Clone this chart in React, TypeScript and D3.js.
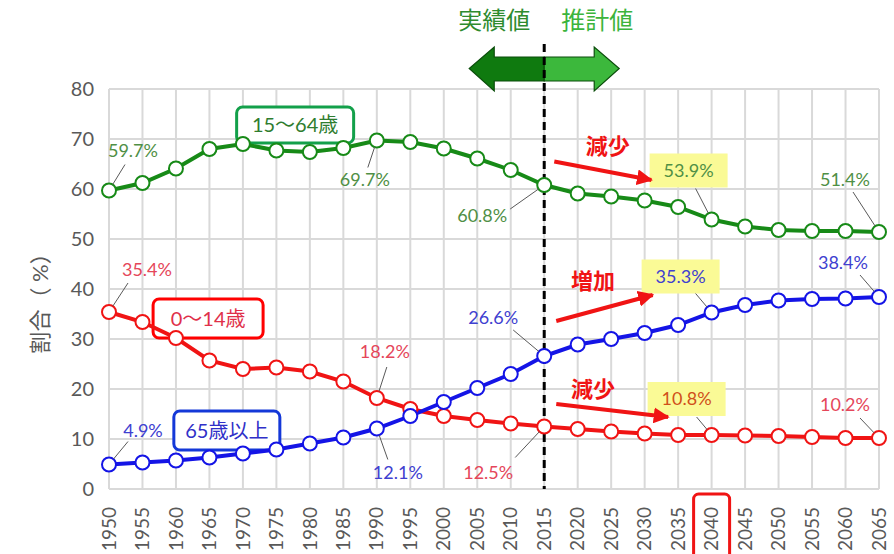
import React from 'react';
import * as d3 from 'd3';

const years = [1950, 1955, 1960, 1965, 1970, 1975, 1980, 1985, 1990, 1995, 2000, 2005, 2010, 2015, 2020, 2025, 2030, 2035, 2040, 2045, 2050, 2055, 2060, 2065];
const working = [59.7, 61.2, 64.1, 68.0, 69.0, 67.7, 67.4, 68.2, 69.7, 69.4, 68.1, 66.1, 63.8, 60.8, 59.1, 58.5, 57.7, 56.4, 53.9, 52.5, 51.8, 51.6, 51.6, 51.4];
const children = [35.4, 33.4, 30.2, 25.7, 24.0, 24.3, 23.5, 21.5, 18.2, 16.0, 14.6, 13.8, 13.1, 12.5, 12.0, 11.5, 11.1, 10.8, 10.8, 10.7, 10.6, 10.4, 10.2, 10.2];
const elderly = [4.9, 5.3, 5.7, 6.3, 7.1, 7.9, 9.1, 10.3, 12.1, 14.6, 17.4, 20.2, 23.0, 26.6, 28.9, 30.0, 31.2, 32.8, 35.3, 36.8, 37.7, 38.0, 38.1, 38.4];
const yTicks = [0, 10, 20, 30, 40, 50, 60, 70, 80];

const series = [
  { key: 'working', name: '15～64歳', values: working, color: '#178a17', text: '#2f7d2f', box: '#13a04a', labelColor: '#4f8f45' },
  { key: 'children', name: '0～14歳', values: children, color: '#f01414', text: '#e0304a', box: '#ff0000', labelColor: '#e5465a' },
  { key: 'elderly', name: '65歳以上', values: elderly, color: '#1414e6', text: '#3030c8', box: '#1438d8', labelColor: '#4040d0' },
];

// value callouts: series, year, text offset, leader end offset, highlighted?
const callouts = [
  { s: 'working', year: 1950, dx: 24, dy: -40, lx: 16, ly: -26, hi: false },
  { s: 'working', year: 1990, dx: -12, dy: 39, lx: -9, ly: 27, hi: false },
  { s: 'working', year: 2015, dx: -62, dy: 31, lx: -34, ly: 24, hi: false },
  { s: 'working', year: 2040, dx: -23, dy: -49, lx: -16, ly: -31, hi: true },
  { s: 'working', year: 2065, dx: -34, dy: -52, lx: -26, ly: -40, hi: false },
  { s: 'children', year: 1950, dx: 38, dy: -42, lx: 19, ly: -29, hi: false },
  { s: 'children', year: 1990, dx: 8, dy: -46, lx: 10, ly: -31, hi: false },
  { s: 'children', year: 2015, dx: -56, dy: 46, lx: -29, ly: 31, hi: false },
  { s: 'children', year: 2040, dx: -25, dy: -36, lx: -15, ly: -18, hi: true },
  { s: 'children', year: 2065, dx: -34, dy: -33, lx: -19, ly: -20, hi: false },
  { s: 'elderly', year: 1950, dx: 34, dy: -34, lx: 19, ly: -23, hi: false },
  { s: 'elderly', year: 1990, dx: 21, dy: 44, lx: 11, ly: 31, hi: false },
  { s: 'elderly', year: 2015, dx: -51, dy: -38, lx: -31, ly: -26, hi: false },
  { s: 'elderly', year: 2040, dx: -31, dy: -36, lx: -16, ly: -19, hi: true },
  { s: 'elderly', year: 2065, dx: -36, dy: -34, lx: -19, ly: -22, hi: false },
];

// series name boxes, in data coordinates (centre year, centre value)
const nameBoxes = [
  { s: 'working', year: 1977.8, value: 72.8, w: 117, h: 36 },
  { s: 'children', year: 1964.8, value: 34.1, w: 110, h: 39 },
  { s: 'elderly', year: 1967.6, value: 11.7, w: 106, h: 39 },
];

// red trend arrows, in data coordinates
const trends = [
  { label: '減少', from: [2016.5, 65.5], to: [2031, 61.8], tx: 2024.5, ty: 68.6 },
  { label: '増加', from: [2016.8, 33.6], to: [2031.2, 38.8], tx: 2022.3, ty: 41.6 },
  { label: '減少', from: [2016.8, 17], to: [2033.5, 14.4], tx: 2022.3, ty: 20 },
];

const W = 894;
const H = 554;
const FONT = 'Lato, "Noto Sans CJK JP", sans-serif';

export default function App() {
  const x = d3.scaleLinear().domain([1950, 2065]).range([109, 879]);
  const y = d3.scaleLinear().domain([0, 80]).range([489, 89]);
  const line = d3.line<number>().x((_, i) => x(years[i])).y((d) => y(d));
  const byKey = Object.fromEntries(series.map((s) => [s.key, s]));
  const xs = x(2015);

  return (
    <svg width={W} height={H} style={{ position: 'absolute', left: 0, top: 0, background: '#fff' }} fontFamily={FONT}>
      <defs>
        <marker id="redhead" viewBox="0 0 10 10" refX="9" refY="5" markerWidth="4" markerHeight="4" orient="auto">
          <path d="M0,0 L10,5 L0,10 z" fill="#f01414" />
        </marker>
      </defs>

      {/* grid */}
      {years.map((yr) => (
        <line key={'v' + yr} x1={x(yr)} x2={x(yr)} y1={y(80)} y2={y(0)} stroke="#d9d9d9" strokeWidth={2} />
      ))}
      {yTicks.map((t) => (
        <line key={'h' + t} x1={x(1950)} x2={x(2065)} y1={y(t)} y2={y(t)} stroke="#d9d9d9" strokeWidth={2} />
      ))}

      {/* y ticks */}
      {yTicks.map((t) => (
        <text key={'yt' + t} x={94} y={y(t)} dy="0.35em" textAnchor="end" fontSize={20} fill="#595959">{t}</text>
      ))}
      <text transform={`translate(40,${y(38.2)}) rotate(-90)`} textAnchor="middle" dy="0.35em" fontSize={22} fill="#595959">割合（ %）</text>

      {/* x ticks */}
      {years.map((yr) => (
        <text key={'xt' + yr} transform={`translate(${x(yr)},${y(0) + 18}) rotate(-90)`} textAnchor="end" dy="0.35em" fontSize={19} fill="#595959">{yr}</text>
      ))}
      <rect x={x(2040) - 18} y={494} width={36} height={70} rx={5} fill="none" stroke="#f01414" strokeWidth={3} />

      {/* actual / projected arrows */}
      <text x={xs - 14} y={21} dy="0.35em" textAnchor="end" fontSize={24} fill="#2e8b2e">実績値</text>
      <text x={xs + 17} y={21} dy="0.35em" textAnchor="start" fontSize={24} fill="#3cb43c">推計値</text>
      <path d={`M${xs},57 L${xs - 50},57 L${xs - 50},47 L${xs - 75},68.5 L${xs - 50},91 L${xs - 50},81 L${xs},81 Z`} fill="#0f7a0f" stroke="#0b4d0b" strokeWidth={1.2} />
      <path d={`M${xs},57 L${xs + 50},57 L${xs + 50},47 L${xs + 75},68.5 L${xs + 50},91 L${xs + 50},81 L${xs},81 Z`} fill="#3cb83c" stroke="#0b4d0b" strokeWidth={1.2} />
      <line x1={xs} x2={xs} y1={44} y2={y(0)} stroke="#000" strokeWidth={3} strokeDasharray="8 5" />

      {/* series name boxes (behind the lines) */}
      {nameBoxes.map((b) => {
        const s = byKey[b.s];
        const cx = x(b.year);
        const cy = y(b.value);
        return (
          <g key={'n' + b.s}>
            <rect x={cx - b.w / 2} y={cy - b.h / 2} width={b.w} height={b.h} rx={6} fill="#fff" stroke={s.box} strokeWidth={3} />
            <text x={cx} y={cy} dy="0.35em" textAnchor="middle" fontSize={20} fill={s.text}>{s.name}</text>
          </g>
        );
      })}

      {/* lines */}
      {series.map((s) => (
        <path key={'l' + s.key} d={line(s.values) || ''} fill="none" stroke={s.color} strokeWidth={4} />
      ))}
      {series.map((s) =>
        s.values.map((v, i) => (
          <circle key={s.key + i} cx={x(years[i])} cy={y(v)} r={7} fill="#fff" stroke={s.color} strokeWidth={2} />
        ))
      )}

      {/* callouts */}
      {callouts.map((c, i) => {
        const s = byKey[c.s];
        const v = s.values[years.indexOf(c.year)];
        const px = x(c.year);
        const py = y(v);
        const ang = Math.atan2(c.ly, c.lx);
        return (
          <g key={'c' + i}>
            {c.hi && <rect x={px + c.dx - 39} y={py + c.dy - 17} width={78} height={34} fill="#fafa96" />}
            <line x1={px + Math.cos(ang) * 7} y1={py + Math.sin(ang) * 7} x2={px + c.lx} y2={py + c.ly} stroke="#595959" strokeWidth={1} />
            <text x={px + c.dx} y={py + c.dy} dy="0.35em" textAnchor="middle" fontSize={18} fill={c.hi && c.s === 'children' ? '#d0501a' : s.labelColor}>
              {v.toFixed(1)}%
            </text>
          </g>
        );
      })}

      {/* trend arrows */}
      {trends.map((t, i) => (
        <g key={'t' + i}>
          <line x1={x(t.from[0])} y1={y(t.from[1])} x2={x(t.to[0])} y2={y(t.to[1])} stroke="#f01414" strokeWidth={4} markerEnd="url(#redhead)" />
          <text x={x(t.tx)} y={y(t.ty)} dy="0.35em" textAnchor="middle" fontSize={22} fontWeight="bold" fill="#f01414">{t.label}</text>
        </g>
      ))}
    </svg>
  );
}
